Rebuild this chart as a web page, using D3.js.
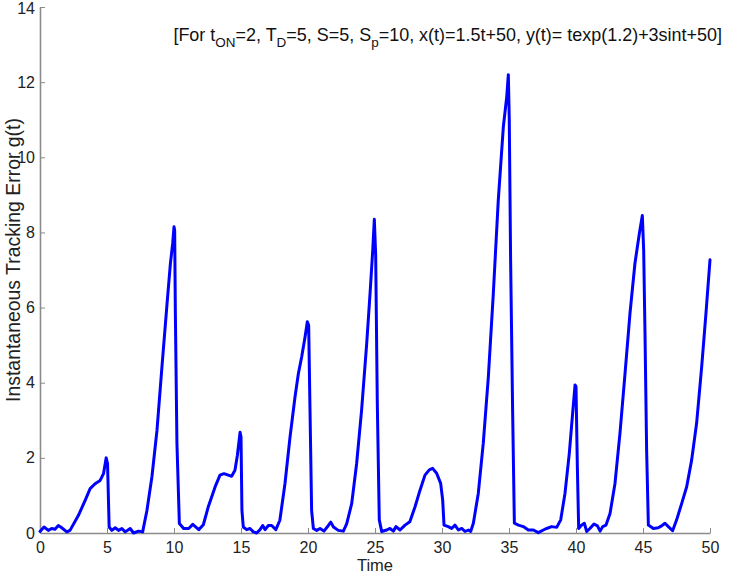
<!DOCTYPE html>
<html>
<head>
<meta charset="utf-8">
<script src="https://cdn.jsdelivr.net/npm/d3@7"></script>
<style>
  html, body { margin: 0; padding: 0; background: #fff; }
  svg { display: block; font-family: "Liberation Sans", Arial, sans-serif; }
</style>
</head>
<body>
<div id="chart"></div>
<script>
// Sample times of the tracking error curve
const times = [
  0, 0.3, 0.62, 0.87, 1.12, 1.37, 1.62, 2.0, 2.24, 2.87, 3.37, 3.74, 4.11, 4.49, 4.74, 4.94, 5.04,
  5.16, 5.36, 5.61, 5.86, 6.11, 6.36, 6.73, 6.98, 7.36, 7.66, 7.98, 8.35, 8.73, 9.1, 9.48, 9.73, 9.9, 10.0, 10.05,
  10.1, 10.22, 10.4, 10.72, 11.1, 11.4, 11.85, 12.19, 12.56, 13.06, 13.43, 13.73, 14.05, 14.3, 14.55, 14.73, 14.93, 15.0,
  15.07, 15.17, 15.42, 15.67, 15.92, 16.17, 16.42, 16.62, 16.8, 17.04, 17.29, 17.6, 17.9, 18.28, 18.66, 19.03,
  19.28, 19.53, 19.78, 19.95, 20.05, 20.15, 20.27, 20.4, 20.65, 20.9, 21.19, 21.52, 21.7, 21.9, 22.26, 22.64,
  22.89, 23.26, 23.63, 24.0, 24.38, 24.63, 24.83, 24.95, 25.05, 25.17, 25.32, 25.5, 25.87, 26.12, 26.37, 26.57,
  26.87, 27.24, 27.6, 27.99, 28.36, 28.73, 29.05, 29.3, 29.6, 29.9, 30.05, 30.15, 30.47, 30.72, 30.97, 31.22,
  31.47, 31.72, 31.97, 32.14, 32.34, 32.71, 33.08, 33.46, 33.83, 34.2, 34.58, 34.83, 34.95, 35.02, 35.12, 35.27,
  35.4, 35.7, 36.07, 36.44, 36.82, 37.19, 37.56, 37.81, 38.18, 38.56, 38.86, 39.18, 39.5, 39.75, 39.93, 40.0,
  40.1, 40.2, 40.42, 40.62, 40.8, 41.04, 41.34, 41.6, 41.8, 41.99, 42.24, 42.54, 42.91, 43.28, 43.66, 44.03,
  44.4, 44.73, 44.95, 45.05, 45.15, 45.27, 45.4, 45.77, 46.14, 46.39, 46.64, 46.89, 47.21, 47.51, 47.89, 48.26,
  48.63, 49.0, 49.38, 49.7, 50.0
];

// Instantaneous tracking error g(t) at each sample time
const errors = [
  0.04, 0.16, 0.07, 0.12, 0.1, 0.2, 0.14, 0.03, 0.07, 0.47, 0.87, 1.18, 1.31, 1.4, 1.58, 2.0, 1.85,
  0.16, 0.07, 0.14, 0.07, 0.12, 0.03, 0.12, 0.0, 0.05, 0.03, 0.6, 1.49, 2.73, 4.42, 6.1, 7.17, 7.7, 8.15, 8.06,
  5.9, 2.38, 0.25, 0.12, 0.12, 0.23, 0.09, 0.22, 0.7, 1.22, 1.54, 1.58, 1.54, 1.51, 1.67, 2.07, 2.68, 2.56,
  0.6, 0.16, 0.09, 0.12, 0.03, 0.0, 0.09, 0.2, 0.09, 0.2, 0.2, 0.09, 0.34, 1.31, 2.56, 3.62,
  4.24, 4.69, 5.22, 5.62, 5.53, 3.27, 0.6, 0.12, 0.07, 0.12, 0.05, 0.2, 0.29, 0.16, 0.07, 0.05,
  0.25, 0.78, 1.85, 3.27, 5.04, 6.37, 7.52, 8.35, 7.4, 3.5, 0.35, 0.04, 0.08, 0.12, 0.05, 0.17,
  0.08, 0.21, 0.3, 0.7, 1.14, 1.54, 1.68, 1.72, 1.59, 1.32, 0.88, 0.21, 0.17, 0.12, 0.21, 0.08,
  0.12, 0.04, 0.08, 0.04, 0.26, 1.06, 2.39, 4.16, 6.38, 8.86, 10.82, 11.61, 12.2, 11.0, 7.27, 3.27,
  0.26, 0.21, 0.17, 0.08, 0.08, 0.01, 0.08, 0.12, 0.17, 0.15, 0.35, 1.06, 2.12, 3.19, 3.94, 3.9,
  1.77, 0.12, 0.21, 0.26, 0.04, 0.12, 0.24, 0.19, 0.05, 0.17, 0.21, 0.52, 1.32, 2.65, 4.25, 5.85,
  7.18, 7.98, 8.45, 7.53, 5.31, 2.21, 0.21, 0.12, 0.14, 0.19, 0.26, 0.17, 0.06, 0.35, 0.79, 1.23,
  1.94, 2.92, 4.43, 5.85, 7.27
];

const xTicks = [0, 5, 10, 15, 20, 25, 30, 35, 40, 45, 50];
const yTicks = [0, 2, 4, 6, 8, 10, 12, 14];

const W = 730, H = 577;
const margin = { left: 40, right: 20, top: 7, bottom: 44 };

const svg = d3.select("#chart").append("svg")
  .attr("width", W).attr("height", H);

const x = d3.scaleLinear().domain([0, 50]).range([margin.left, W - margin.right]);
const y = d3.scaleLinear().domain([0, 14]).range([H - margin.bottom, margin.top]);

const axisColor = "#8c8c8c";

// Bottom axis: ticks point inward (upward)
const gx = svg.append("g")
  .attr("transform", `translate(0,${y(0)})`)
  .call(d3.axisBottom(x).tickValues(xTicks).tickSize(-5).tickPadding(9).tickSizeOuter(0));

// Left axis: ticks point inward (rightward)
const gy = svg.append("g")
  .attr("transform", `translate(${x(0)},0)`)
  .call(d3.axisLeft(y).tickValues(yTicks).tickSize(-5).tickPadding(5).tickSizeOuter(0));

[gx, gy].forEach(g => {
  g.select(".domain").attr("stroke", axisColor).attr("stroke-width", 1.6);
  g.selectAll(".tick line").attr("stroke", axisColor).attr("stroke-width", 1);
  g.selectAll(".tick text")
    .attr("fill", "#222")
    .style("font-size", "16px")
    .style("font-family", "'Liberation Sans', Arial, sans-serif");
});
// keep the top label clear of the page edge
gy.selectAll(".tick text").filter(d => d === 14).attr("dy", "0.42em");

// Error curve
const points = times.map((t, i) => [t, errors[i]]);
const line = d3.line()
  .x(d => x(d[0]))
  .y(d => y(d[1]))
  .curve(d3.curveLinear);

svg.append("path")
  .datum(points)
  .attr("fill", "none")
  .attr("stroke", "#0000ff")
  .attr("stroke-width", 3)
  .attr("stroke-linejoin", "round")
  .attr("stroke-linecap", "round")
  .attr("d", line);

// Axis titles
svg.append("text")
  .attr("x", (x(0) + x(50)) / 2)
  .attr("y", 571)
  .attr("text-anchor", "middle")
  .attr("fill", "#222")
  .style("font-size", "16.5px")
  .text("Time");

const yTitle = svg.append("text")
  .attr("transform", "translate(20,260) rotate(-90)")
  .attr("text-anchor", "middle")
  .attr("fill", "#222")
  .style("font-size", "15px")
  .text("Instantaneous Tracking Error g(t)");
{
  const w = yTitle.node().getComputedTextLength();
  yTitle.style("font-size", (15 * 284 / w).toFixed(2) + "px");
}

// Parameter annotation with subscripts
const note = svg.append("text")
  .attr("x", 722)
  .attr("y", 41)
  .attr("text-anchor", "end")
  .attr("fill", "#111");

const parts = [
  ["[For t", false], ["ON", true], ["=2, T", false], ["D", true],
  ["=5, S=5, S", false], ["p", true],
  ["=10, x(t)=1.5t+50, y(t)= texp(1.2)+3sint+50]", false]
];
function drawNote(fs) {
  note.selectAll("tspan").remove();
  parts.forEach(([s, sub], i) => {
    const prevSub = i > 0 && parts[i - 1][1];
    note.append("tspan")
      .attr("dy", sub ? fs * 0.33 : (prevSub ? -fs * 0.33 : 0))
      .style("font-size", (sub ? fs * 0.75 : fs) + "px")
      .text(s);
  });
}
drawNote(15);
{
  const w = note.node().getBBox().width;
  drawNote(15 * 549 / w);
}
</script>
</body>
</html>
